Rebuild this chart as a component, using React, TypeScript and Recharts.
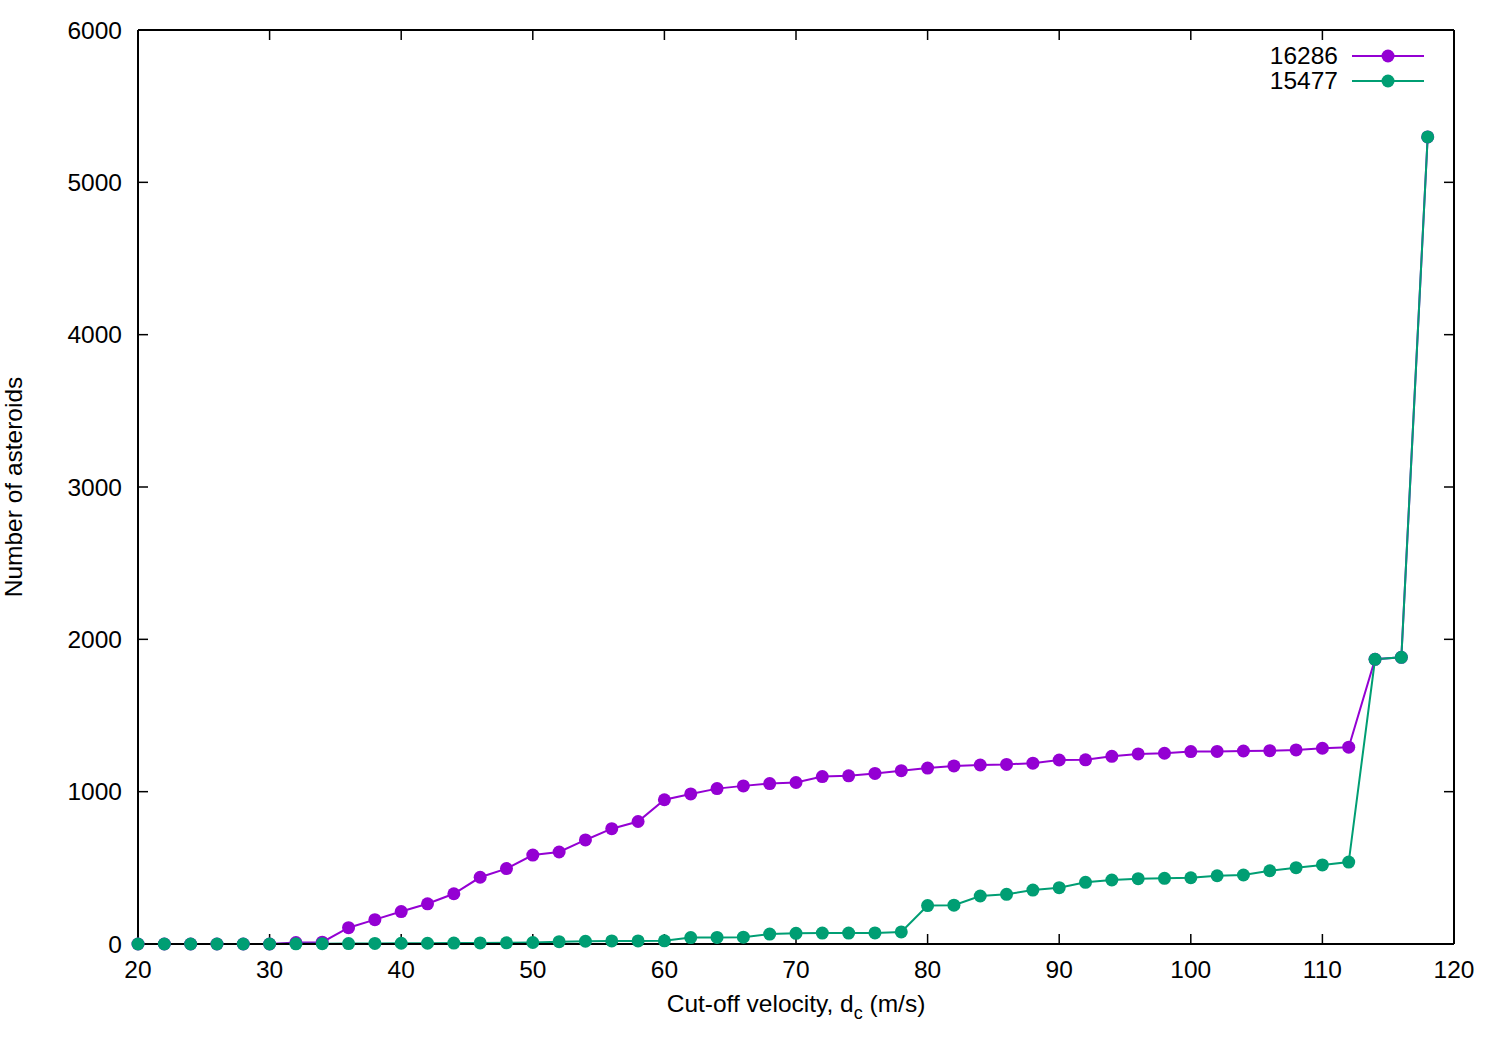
import { LineChart, Line, XAxis, YAxis } from 'recharts';

// cut-off velocity (m/s), one point every 2 m/s
const velocity = [
    20, 22, 24, 26, 28, 30, 32, 34, 36, 38,
    40, 42, 44, 46, 48, 50, 52, 54, 56, 58,
    60, 62, 64, 66, 68, 70, 72, 74, 76, 78,
    80, 82, 84, 86, 88, 90, 92, 94, 96, 98,
    100, 102, 104, 106, 108, 110, 112, 114, 116, 118,
];

const family16286 = [
    0, 0, 0, 0, 0, 0, 10, 12, 107, 160,
    213, 264, 330, 438, 495, 584, 604, 683, 757, 804,
    947, 985, 1020, 1038, 1053, 1060, 1099, 1104, 1120, 1138,
    1155, 1169, 1175, 1179, 1187, 1208, 1209, 1232, 1248, 1252,
    1263, 1264, 1267, 1269, 1274, 1285, 1292, 1869, 1882, 5298,
];

const family15477 = [
    0, 0, 0, 0, 0, 0, 1, 2, 3, 4,
    5, 5, 6, 7, 8, 10, 15, 18, 20, 20,
    21, 42, 43, 45, 65, 70, 72, 72, 73, 79,
    252, 255, 315, 326, 354, 370, 405, 420, 429, 431,
    435, 448, 453, 481, 501, 519, 538, 1869, 1882, 5298,
];

const xTicks = [20, 30, 40, 50, 60, 70, 80, 90, 100, 110, 120];
const yTicks = [0, 1000, 2000, 3000, 4000, 5000, 6000];

const seriesNames = ['16286', '15477'];
const seriesColors = ['#9400d3', '#009e73'];

const data = velocity.map((v, i) => ({
    v,
    a: family16286[i],
    b: family15477[i],
}));

const font = "'Liberation Sans', Arial, sans-serif";
const fs = 24.5;
const tickStyle = { fill: '#000', fontSize: fs, fontFamily: font };
const axisLine = { stroke: '#000', strokeWidth: 2 };
const tickLine = { stroke: '#000', strokeWidth: 1.5 };
const blank = () => '';

const xLabel = () => (
    <text x={796} y={1012} textAnchor="middle" fontSize={fs} fontFamily={font} fill="#000">
        Cut-off velocity, d<tspan fontSize={18} dy={7}>c</tspan><tspan dy={-7}> (m/s)</tspan>
    </text>
);

const yLabel = () => (
    <text x={22} y={487} textAnchor="middle" fontSize={fs} fontFamily={font} fill="#000"
        transform="rotate(-90 22 487)">
        Number of asteroids
    </text>
);

// gnuplot-style key, top right inside the frame
const Key = () => (
    <div style={{ position: 'absolute', left: 1240, top: 43, fontFamily: font, fontSize: fs, color: '#000' }}>
        {seriesNames.map((name, i) => (
            <div key={name} style={{ display: 'flex', alignItems: 'center', height: 25 }}>
                <span style={{ width: 98, textAlign: 'right', paddingRight: 14 }}>{name}</span>
                <svg width={74} height={16}>
                    <line x1={0} y1={8} x2={72} y2={8} stroke={seriesColors[i]} strokeWidth={2} />
                    <circle cx={36} cy={8} r={6.5} fill={seriesColors[i]} />
                </svg>
            </div>
        ))}
    </div>
);

const App = () => {
    return (
        <div style={{ position: 'absolute', left: 0, top: 0, width: 1500, height: 1050, background: '#fff' }}>
            <LineChart width={1500} height={1050} data={data}
                margin={{ top: 29, right: 45, bottom: 0, left: 0 }}>
                <XAxis dataKey="v" type="number" domain={[20, 120]} ticks={xTicks}
                    height={106} axisLine={axisLine} tickLine={tickLine}
                    tickSize={-10} tickMargin={27} tick={tickStyle} label={xLabel} />
                <XAxis xAxisId="top" orientation="top" dataKey="v" type="number" domain={[20, 120]}
                    ticks={xTicks} height={1} axisLine={axisLine} tickLine={tickLine}
                    tickSize={-10} tickFormatter={blank} />
                <YAxis type="number" domain={[0, 6000]} ticks={yTicks} width={138}
                    axisLine={axisLine} tickLine={tickLine} tickSize={-10} tickMargin={26}
                    tick={tickStyle} label={yLabel} />
                <YAxis yAxisId="right" orientation="right" type="number" domain={[0, 6000]}
                    ticks={yTicks} width={1} axisLine={axisLine} tickLine={tickLine}
                    tickSize={-10} tickFormatter={blank} />
                <Line dataKey="a" name={seriesNames[0]} stroke={seriesColors[0]} strokeWidth={2}
                    dot={{ r: 6.5, fill: seriesColors[0], stroke: 'none' }} activeDot={false}
                    isAnimationActive={false} />
                {/* same domains on the mirrored axes, so this lands in the same place */}
                <Line dataKey="b" name={seriesNames[1]} xAxisId="top" yAxisId="right"
                    stroke={seriesColors[1]} strokeWidth={2}
                    dot={{ r: 6.5, fill: seriesColors[1], stroke: 'none' }} activeDot={false}
                    isAnimationActive={false} />
            </LineChart>
            <Key />
        </div>
    );
};

export default App;
